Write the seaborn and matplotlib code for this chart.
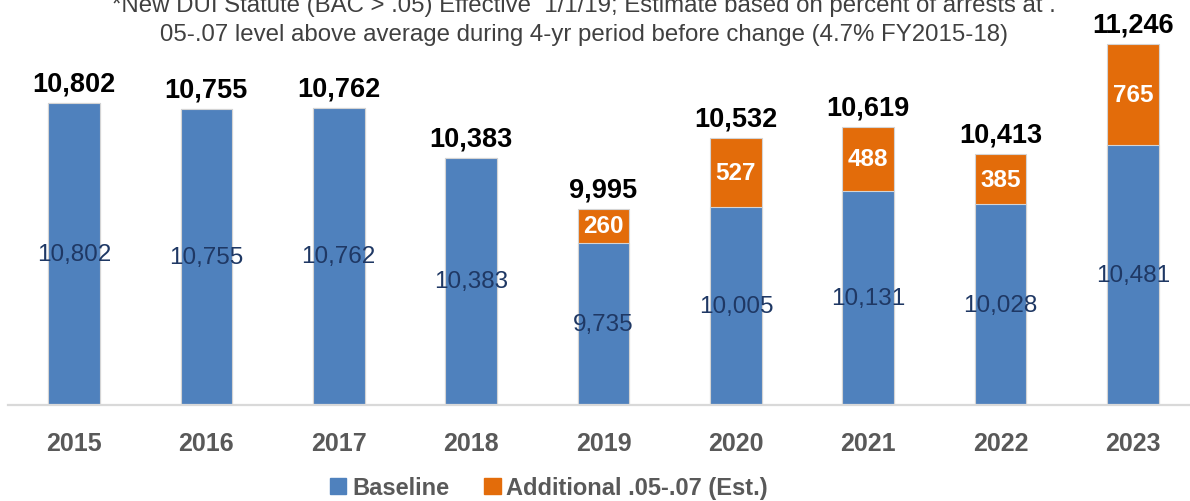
import pandas as pd
import matplotlib.pyplot as plt
import seaborn as sns
from matplotlib.patches import Patch

# Dados
anos = ["2015", "2016", "2017", "2018", "2019", "2020", "2021", "2022", "2023"]
baseline = [10802, 10755, 10762, 10383, 9735, 10005, 10131, 10028, 10481]
adicional = [0, 0, 0, 0, 260, 527, 488, 385, 765]

titulo_l1 = "*New DUI Statute (BAC > .05) Effective  1/1/19; Estimate based on percent of arrests at ."
titulo_l2 = "05-.07 level above average during 4-yr period before change (4.7% FY2015-18)"

azul = "#4F81BD"
laranja = "#E36C0A"

df = pd.DataFrame({"Ano": anos, "Baseline": baseline, "Adicional": adicional})
df["Total"] = df["Baseline"] + df["Adicional"]

sns.set_theme(style="white")
plt.rcParams["font.family"] = ["Liberation Sans", "DejaVu Sans"]

fig = plt.figure(figsize=(11.9, 5.02), dpi=100)
ax = fig.add_axes([7.8 / 1190, 96 / 502, 1191.4 / 1190, 406 / 502])

# barras empilhadas: total (laranja) por baixo, baseline (azul) por cima
sns.barplot(data=df, x="Ano", y="Total", color=laranja, saturation=1, width=0.39,
            edgecolor="#d4d4d4", linewidth=0.8, ax=ax)
sns.barplot(data=df, x="Ano", y="Baseline", color=azul, saturation=1, width=0.39,
            edgecolor="#d4d4d4", linewidth=0.8, ax=ax)

ymin = 8500
ax.set_ylim(ymin, 11592)
ax.set_xlim(-0.5, 8.5)
ax.set_yticks([])
ax.set_xlabel("")
ax.set_ylabel("")
sns.despine(ax=ax, left=True)
ax.spines["bottom"].set_color("#d9d9d9")
ax.spines["bottom"].set_linewidth(1.6)
ax.tick_params(axis="x", length=0, pad=19, labelsize=18, labelcolor="#595959")
for lbl in ax.get_xticklabels():
    lbl.set_fontweight("bold")

# rótulos
for i, row in df.iterrows():
    ax.annotate(f"{row['Total']:,}", (i, row["Total"]), xytext=(0, 9), textcoords="offset points",
                ha="center", va="baseline", fontsize=19.5, fontweight="bold", color="black")
    ax.text(i, (ymin + row["Baseline"]) / 2, f"{row['Baseline']:,}", ha="center", va="center",
            fontsize=17.5, color="#1F3864")
    if row["Adicional"] > 0:
        ax.text(i, row["Baseline"] + row["Adicional"] / 2, f"{row['Adicional']:,}", ha="center",
                va="center", fontsize=17.5, fontweight="bold", color="white")

fig.text(584 / 1190, 1 - 6 / 502, titulo_l1, ha="center", va="center", fontsize=17.3, color="#404040")
fig.text(584 / 1190, 1 - 35.5 / 502, titulo_l2, ha="center", va="center", fontsize=17.3, color="#404040")

handles = [Patch(color=azul, label="Baseline"), Patch(color=laranja, label="Additional .05-.07 (Est.)")]
leg = fig.legend(handles=handles, loc="center", bbox_to_anchor=(549 / 1190, 1 - 489 / 502), ncol=2,
                 frameon=False, fontsize=17, handlelength=0.68, handleheight=0.68, handletextpad=0.25,
                 columnspacing=1.5, borderpad=0.1)
for t in leg.get_texts():
    t.set_color("#595959")
    t.set_fontweight("bold")

fig.savefig("out.png", dpi=100)
